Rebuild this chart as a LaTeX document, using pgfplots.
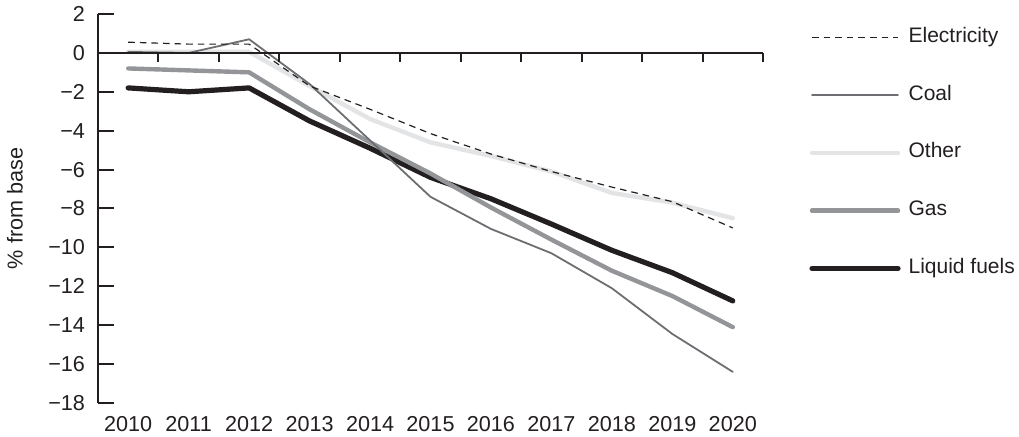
\documentclass[border=0pt]{standalone}
\usepackage{fontspec}
\setmainfont{Liberation Sans}
\usepackage{pgfplots}
\pgfplotsset{compat=1.18}
\definecolor{cblack}{HTML}{231F20}
\definecolor{cgas}{HTML}{939598}
\definecolor{cother}{HTML}{E3E4E5}
\definecolor{ccoal}{HTML}{6D6E71}
\begin{document}
\begin{tikzpicture}[font=\fontsize{10.8}{13}\selectfont]
\useasboundingbox (-49pt,-17pt) rectangle (460.5pt,201.5pt);
\begin{axis}[
  at={(0,0)}, anchor=south west,
  scale only axis, width=332.5pt, height=194.5pt,
  xmin=2009.5, xmax=2020.5, ymin=-18, ymax=2,
  axis y line*=left, axis x line*=bottom,
  x axis line style={draw=none},
  y axis line style={line width=1pt, color=cblack, -},
  xtick={2010,2011,2012,2013,2014,2015,2016,2017,2018,2019,2020},
  xticklabels={2010,2011,2012,2013,2014,2015,2016,2017,2018,2019,2020},
  xtick style={draw=none},
  xticklabel style={yshift=-3pt},
  ytick={-18,-16,-14,-12,-10,-8,-6,-4,-2,0,2},
  yticklabels={−18,−16,−14,−12,−10,−8,−6,−4,−2,0,2},
  ytick style={line width=1pt, color=cblack},
  tick align=inside, major tick length=8pt,
  tick label style={color=cblack},
  yticklabel style={xshift=-3pt},
  ylabel={\% from base},
  ylabel style={at={(axis description cs:-0.1248,0.5)}, anchor=center, color=cblack},
  legend style={at={(1.0692,0.972)}, anchor=north west, draw=none, fill=none,
    inner sep=0pt, row sep=16.9pt, column sep=3pt,
    font=\fontsize{10.5}{12.6}\selectfont,
    nodes={inner sep=1pt, text height=7.5pt, text depth=2.5pt, text=cblack}},
  legend cell align=left,
  legend image code/.code={\draw[#1] (0pt,0pt) -- (43pt,0pt);},
  every axis plot/.append style={line cap=round, line join=round},
]
\addlegendimage{cblack, line width=0.6pt, dash pattern=on 3.3pt off 2.5pt, line cap=butt}
\addlegendentry{Electricity}
\addlegendimage{ccoal, line width=0.9pt}
\addlegendentry{Coal}
\addlegendimage{cother, line width=2.2pt, line cap=round}
\addlegendentry{Other}
\addlegendimage{cgas, line width=2.2pt, line cap=round}
\addlegendentry{Gas}
\addlegendimage{cblack, line width=2.6pt, line cap=round}
\addlegendentry{Liquid fuels}

% Other
\addplot[forget plot, cother, line width=2.2pt] coordinates {
(2010,0.05) (2011,0.05) (2012,0.05) (2013,-1.7) (2014,-3.4) (2015,-4.6)
(2016,-5.3) (2017,-6.1) (2018,-7.2) (2019,-7.7) (2020,-8.5)};
% Liquid fuels
\addplot[forget plot, cblack, line width=2.6pt] coordinates {
(2010,-1.8) (2011,-2.0) (2012,-1.8) (2013,-3.5) (2014,-4.9) (2015,-6.4)
(2016,-7.5) (2017,-8.8) (2018,-10.15) (2019,-11.3) (2020,-12.75)};
% Gas
\addplot[forget plot, cgas, line width=2.2pt] coordinates {
(2010,-0.8) (2011,-0.9) (2012,-1.0) (2013,-2.9) (2014,-4.6) (2015,-6.2)
(2016,-7.95) (2017,-9.6) (2018,-11.2) (2019,-12.5) (2020,-14.1)};
% Coal
\addplot[forget plot, ccoal, line width=0.9pt] coordinates {
(2010,0.05) (2011,0.0) (2012,0.7) (2013,-1.6) (2014,-4.5) (2015,-7.4)
(2016,-9.05) (2017,-10.3) (2018,-12.1) (2019,-14.45) (2020,-16.4)};
% Electricity
\addplot[forget plot, cblack, line width=0.6pt, dash pattern=on 3.3pt off 2.5pt, line cap=butt] coordinates {
(2010,0.55) (2011,0.45) (2012,0.45) (2013,-1.7) (2014,-2.9) (2015,-4.15)
(2016,-5.2) (2017,-6.1) (2018,-6.9) (2019,-7.65) (2020,-9.0)};
\end{axis}
\begin{axis}[
  at={(0,0)}, anchor=south west,
  scale only axis, width=332.5pt, height=194.5pt,
  xmin=2009.5, xmax=2020.5, ymin=-18, ymax=2,
  axis x line*=middle, axis y line=none,
  x axis line style={line width=1pt, color=cblack, -},
  xtick={2010.5,2011.5,2012.5,2013.5,2014.5,2015.5,2016.5,2017.5,2018.5,2019.5,2020.5},
  xticklabels={},
  ytick=\empty,
  tick align=center, major tick length=4.5pt,
  xtick style={line width=1pt, color=cblack, yshift=-2.25pt},
]
\addplot[draw=none, forget plot] coordinates {(2010,0) (2020,0)};
\end{axis}
\end{tikzpicture}
\end{document}
